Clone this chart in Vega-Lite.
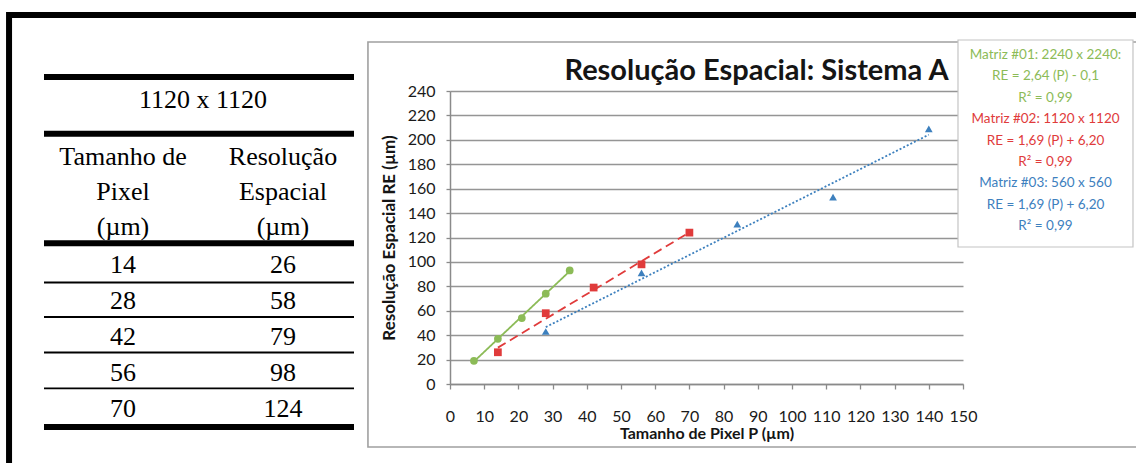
{
  "$schema": "https://vega.github.io/schema/vega-lite/v6.json",
  "autosize": {"type": "none"},
  "padding": {"left": 44, "top": 91, "right": 1092, "bottom": 372},
  "background": "white",
  "bounds": "flush",
  "spacing": 96,
  "config": {
    "view": {"stroke": null},
    "font": "Lato"
  },
  "datasets": {
    "medidas": [
      {"matriz": "2240 x 2240", "P": 7, "RE": 19},
      {"matriz": "2240 x 2240", "P": 14, "RE": 37},
      {"matriz": "2240 x 2240", "P": 21, "RE": 54},
      {"matriz": "2240 x 2240", "P": 28, "RE": 74},
      {"matriz": "2240 x 2240", "P": 35, "RE": 93},
      {"matriz": "1120 x 1120", "P": 14, "RE": 26},
      {"matriz": "1120 x 1120", "P": 28, "RE": 58},
      {"matriz": "1120 x 1120", "P": 42, "RE": 79},
      {"matriz": "1120 x 1120", "P": 56, "RE": 98},
      {"matriz": "1120 x 1120", "P": 70, "RE": 124},
      {"matriz": "560 x 560", "P": 28, "RE": 43},
      {"matriz": "560 x 560", "P": 56, "RE": 91},
      {"matriz": "560 x 560", "P": 84, "RE": 131},
      {"matriz": "560 x 560", "P": 112, "RE": 153},
      {"matriz": "560 x 560", "P": 140, "RE": 209}
    ],
    "legenda": [
      {"linha": 0, "matriz": "2240 x 2240", "texto": "Matriz #01: 2240 x 2240:"},
      {"linha": 1, "matriz": "2240 x 2240", "texto": "RE = 2,64 (P) - 0,1"},
      {"linha": 2, "matriz": "2240 x 2240", "texto": "R² = 0,99"},
      {"linha": 3, "matriz": "1120 x 1120", "texto": "Matriz #02: 1120 x 1120"},
      {"linha": 4, "matriz": "1120 x 1120", "texto": "RE = 1,69 (P) + 6,20"},
      {"linha": 5, "matriz": "1120 x 1120", "texto": "R² = 0,99"},
      {"linha": 6, "matriz": "560 x 560", "texto": "Matriz #03: 560 x 560"},
      {"linha": 7, "matriz": "560 x 560", "texto": "RE = 1,69 (P) + 6,20"},
      {"linha": 8, "matriz": "560 x 560", "texto": "R² = 0,99"}
    ]
  },
  "hconcat": [
    {
      "width": 310,
      "height": 293,
      "layer": [
        {
          "data": {"values": [{}]},
          "mark": {"type": "rect", "filled": false, "stroke": "#000000", "strokeWidth": 6},
          "encoding": {
            "x": {"datum": -0.7125, "type": "quantitative", "scale": {"domain": [-0.494, 1.444], "nice": false, "zero": false}, "axis": null},
            "x2": {"datum": 6.73},
            "y": {"datum": -6.158, "type": "quantitative", "scale": {"domain": [-4.047, 4.092], "reverse": true, "nice": false, "zero": false}, "axis": null},
            "y2": {"datum": 7.31}
          }
        },
        {
          "data": {"values": [{}]},
          "mark": {"type": "rect", "filled": false, "stroke": "#a0a0a0", "strokeWidth": 1.6},
          "encoding": {
            "x": {"datum": 1.53125, "type": "quantitative"},
            "x2": {"datum": 6.73},
            "y": {"datum": -5.408, "type": "quantitative"},
            "y2": {"datum": 5.842}
          }
        },
        {
          "data": {"values": [{"fronteira": -4.436}, {"fronteira": -2.861}, {"fronteira": 0.183}, {"fronteira": 5.286}]},
          "mark": {"type": "rule", "color": "#000000", "strokeWidth": 6},
          "encoding": {
            "x": {"datum": -0.494, "type": "quantitative"},
            "x2": {"datum": 1.444},
            "y": {"field": "fronteira", "type": "quantitative"}
          }
        },
        {
          "data": {"values": [{"fronteira": 1.272}, {"fronteira": 2.231}, {"fronteira": 3.217}, {"fronteira": 4.211}]},
          "mark": {"type": "rule", "color": "#000000", "strokeWidth": 1.8},
          "encoding": {
            "x": {"datum": -0.494, "type": "quantitative"},
            "x2": {"datum": 1.444},
            "y": {"field": "fronteira", "type": "quantitative"}
          }
        },
        {
          "data": {"values": [{}]},
          "mark": {"type": "text", "text": "1120 x 1120", "font": "Liberation Serif", "fontSize": 26, "color": "#000000", "align": "center", "baseline": "alphabetic"},
          "encoding": {
            "x": {"datum": 0.5, "type": "quantitative"},
            "y": {"datum": -3.566, "type": "quantitative"}
          }
        },
        {
          "data": {"values": [{"coluna": 0, "texto": "Tamanho de\nPixel\n(µm)"}, {"coluna": 1, "texto": "Resolução\nEspacial\n(µm)"}]},
          "mark": {"type": "text", "font": "Liberation Serif", "fontSize": 26, "color": "#000000", "align": "center", "baseline": "alphabetic", "lineBreak": "\n", "lineHeight": 35},
          "encoding": {
            "x": {"field": "coluna", "type": "quantitative"},
            "y": {"datum": -2, "type": "quantitative"},
            "text": {"field": "texto"}
          }
        },
        {
          "data": {"name": "medidas"},
          "transform": [
            {"filter": "datum.matriz === '1120 x 1120'"},
            {"window": [{"op": "row_number", "as": "linha"}], "sort": [{"field": "P"}]}
          ],
          "mark": {"type": "text", "font": "Liberation Serif", "fontSize": 26, "color": "#000000", "align": "center", "baseline": "alphabetic"},
          "encoding": {
            "x": {"datum": 0, "type": "quantitative"},
            "y": {"field": "linha", "type": "quantitative"},
            "text": {"field": "P"}
          }
        },
        {
          "data": {"name": "medidas"},
          "transform": [
            {"filter": "datum.matriz === '1120 x 1120'"},
            {"window": [{"op": "row_number", "as": "linha"}], "sort": [{"field": "P"}]}
          ],
          "mark": {"type": "text", "font": "Liberation Serif", "fontSize": 26, "color": "#000000", "align": "center", "baseline": "alphabetic"},
          "encoding": {
            "x": {"datum": 1, "type": "quantitative"},
            "y": {"field": "linha", "type": "quantitative"},
            "text": {"field": "RE"}
          }
        }
      ]
    },
    {
      "width": 513,
      "height": 293,
      "title": {
        "text": "Resolução Espacial: Sistema A",
        "font": "Lato",
        "fontSize": 29,
        "fontWeight": "bold",
        "color": "#151515",
        "anchor": "middle",
        "frame": "group",
        "dx": 50,
        "dy": 47,
        "offset": 0
      },
      "layer": [
        {
          "encoding": {
            "x": {
              "field": "P",
              "type": "quantitative",
              "scale": {"domain": [0, 150], "nice": false, "zero": false},
              "axis": {
                "values": [0, 10, 20, 30, 40, 50, 60, 70, 80, 90, 100, 110, 120, 130, 140, 150],
                "grid": false,
                "domainColor": "#8a8a8a",
                "domainWidth": 1.5,
                "tickColor": "#8a8a8a",
                "tickWidth": 1.3,
                "tickSize": 5,
                "labelFont": "Lato",
                "labelFontSize": 16,
                "labelColor": "#1a1a1a",
                "labelPadding": 19,
                "labelFlush": false,
                "title": "Tamanho de Pixel P (µm)",
                "titleFont": "Lato",
                "titleFontSize": 16,
                "titleFontWeight": "bold",
                "titleColor": "#151515",
                "titlePadding": 1
              }
            },
            "y": {
              "field": "RE",
              "type": "quantitative",
              "scale": {"domain": [0, 240], "nice": false, "zero": false},
              "axis": {
                "values": [0, 20, 40, 60, 80, 100, 120, 140, 160, 180, 200, 220, 240],
                "grid": true,
                "gridColor": "#959595",
                "gridWidth": 1.7,
                "domainColor": "#8a8a8a",
                "domainWidth": 1.5,
                "tickColor": "#8a8a8a",
                "tickWidth": 1.3,
                "tickSize": 4,
                "labelFont": "Lato",
                "labelFontSize": 16,
                "labelColor": "#1a1a1a",
                "labelPadding": 11,
                "labelFlush": false,
                "title": "Resolução Espacial  RE (µm)",
                "titleFont": "Lato",
                "titleFontSize": 17,
                "titleFontWeight": "bold",
                "titleColor": "#151515",
                "titlePadding": 9
              }
            }
          },
          "layer": [
            {
              "data": {"name": "medidas"},
              "mark": {"type": "point", "filled": true, "opacity": 1, "size": 60},
              "encoding": {
                "color": {
                  "field": "matriz",
                  "type": "nominal",
                  "scale": {"domain": ["2240 x 2240", "1120 x 1120", "560 x 560"], "range": ["#8cbb57", "#e03b3b", "#3d80be"]},
                  "legend": null
                },
                "shape": {
                  "field": "matriz",
                  "type": "nominal",
                  "scale": {"domain": ["2240 x 2240", "1120 x 1120", "560 x 560"], "range": ["circle", "square", "triangle-up"]},
                  "legend": null
                }
              }
            },
            {
              "data": {"name": "medidas"},
              "transform": [
                {"regression": "RE", "on": "P", "groupby": ["matriz"], "method": "linear"}
              ],
              "mark": {"type": "line", "strokeWidth": 1.8},
              "encoding": {
                "color": {"field": "matriz", "type": "nominal", "legend": null},
                "strokeDash": {
                  "field": "matriz",
                  "type": "nominal",
                  "scale": {"domain": ["2240 x 2240", "1120 x 1120", "560 x 560"], "range": [[1, 0], [9, 5], [2, 2]]},
                  "legend": null
                }
              }
            }
          ]
        },
        {
          "layer": [
            {
              "data": {"values": [{}]},
              "mark": {"type": "rect", "fill": "#ffffff", "stroke": "#c4c4c4", "strokeWidth": 1.2},
              "encoding": {
                "x": {"datum": 0, "type": "quantitative", "scale": {"domain": [-2.903, 0.0286], "nice": false, "zero": false}, "axis": null},
                "x2": {"datum": 1},
                "y": {"datum": -0.701, "type": "quantitative", "scale": {"domain": [1.682, 15.374], "reverse": true, "nice": false, "zero": false}, "axis": null},
                "y2": {"datum": 8.972}
              }
            },
            {
              "data": {"name": "legenda"},
              "mark": {"type": "text", "font": "Lato", "fontSize": 13.5, "align": "center", "baseline": "middle"},
              "encoding": {
                "x": {"datum": 0.5, "type": "quantitative"},
                "y": {"field": "linha", "type": "quantitative"},
                "text": {"field": "texto"},
                "color": {"field": "matriz", "type": "nominal", "legend": null}
              }
            }
          ]
        }
      ],
      "resolve": {"scale": {"x": "independent", "y": "independent"}}
    }
  ]
}
